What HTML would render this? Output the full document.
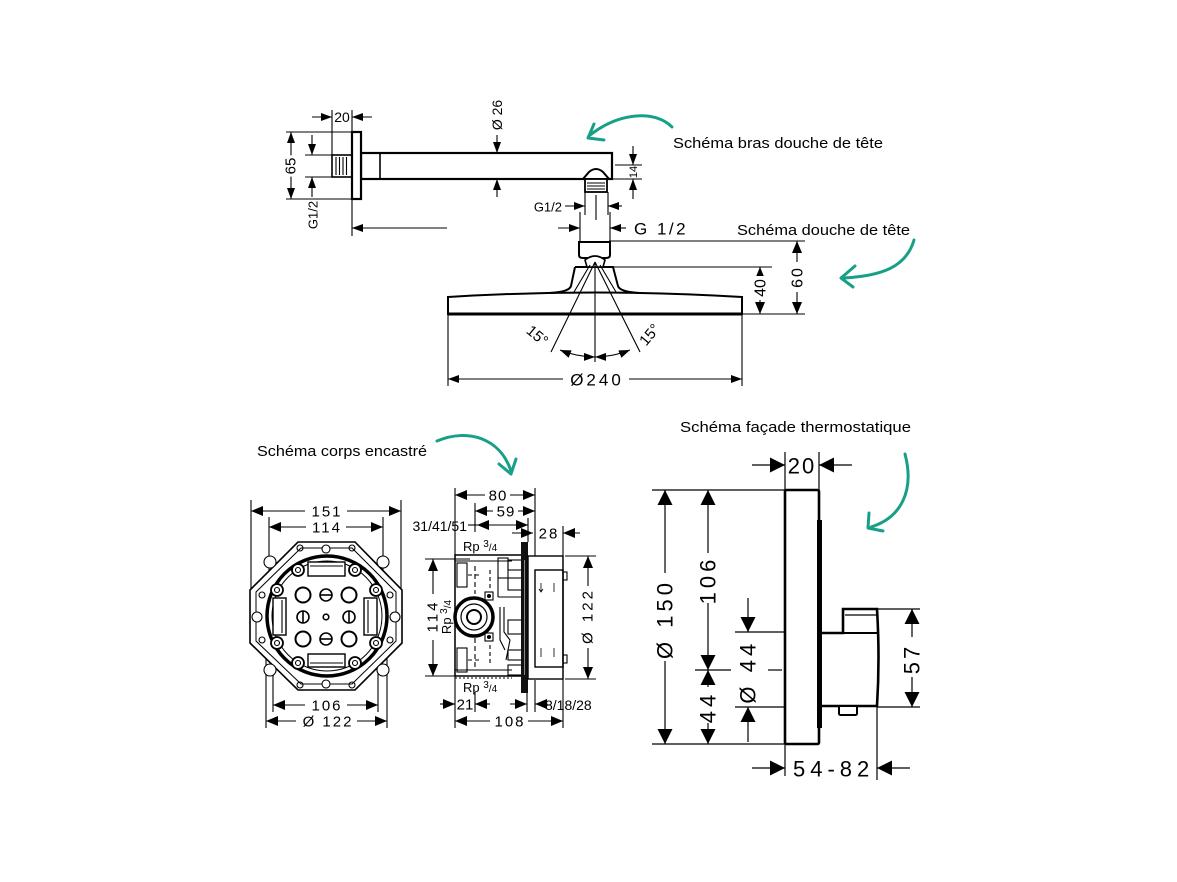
<!DOCTYPE html>
<html><head><meta charset="utf-8"><style>
html,body{margin:0;padding:0;background:#fff;}
svg{display:block}
text{font-family:"Liberation Sans",sans-serif;fill:#000;stroke:none}
.h{stroke:#fff;stroke-width:6px;paint-order:stroke;}
</style></head><body>
<svg width="1177" height="882" viewBox="0 0 1177 882" xmlns="http://www.w3.org/2000/svg">
<defs>
<marker id="a" viewBox="0 0 11 8" refX="11" refY="4" markerWidth="11" markerHeight="8" markerUnits="userSpaceOnUse" orient="auto-start-reverse"><path d="M0,0L11,4L0,8z" fill="#000" stroke="none"/></marker>
<marker id="m" viewBox="0 0 12 10" refX="12" refY="5" markerWidth="12" markerHeight="10" markerUnits="userSpaceOnUse" orient="auto-start-reverse"><path d="M0,0L12,5L0,10z" fill="#000" stroke="none"/></marker>
<marker id="b" viewBox="0 0 15 15" refX="15" refY="7.5" markerWidth="15" markerHeight="15" markerUnits="userSpaceOnUse" orient="auto-start-reverse"><path d="M0,0L15,7.5L0,15z" fill="#000" stroke="none"/></marker>
</defs>
<rect width="1177" height="882" fill="#fff"/>

<!-- ================= TOP ARM ================= -->
<g stroke="#000" fill="none" stroke-width="1.1">
<line x1="286" y1="132" x2="352" y2="132"/>
<line x1="286" y1="199" x2="352" y2="199"/>
<line x1="305" y1="155" x2="332" y2="155"/>
<line x1="305" y1="177" x2="332" y2="177"/>
<line x1="332" y1="110" x2="332" y2="155"/>
<line x1="352" y1="110" x2="352" y2="132"/>
<line x1="352" y1="199" x2="352" y2="236"/>
<line x1="291" y1="132" x2="291" y2="199" marker-start="url(#a)" marker-end="url(#a)"/>
<line x1="312" y1="135" x2="312" y2="155" marker-end="url(#a)"/>
<line x1="312" y1="197" x2="312" y2="177" marker-end="url(#a)"/>
<line x1="312" y1="117" x2="332" y2="117" marker-end="url(#a)"/>
<line x1="372" y1="117" x2="352" y2="117" marker-end="url(#a)"/>
<line x1="447" y1="228" x2="352" y2="228" marker-end="url(#a)"/>
<rect x="361" y="153" width="251" height="26" stroke-width="2.2"/>
<line x1="380" y1="153" x2="380" y2="179" stroke-width="1.6"/>
<rect x="352" y="132" width="9" height="67" fill="#fff" stroke-width="2.2"/>
<rect x="332" y="155" width="20" height="22" stroke-width="1.6"/>
<line x1="336" y1="157" x2="336" y2="175"/>
<line x1="339.5" y1="157" x2="339.5" y2="175"/>
<line x1="343" y1="157" x2="343" y2="175"/>
<line x1="346.5" y1="157" x2="346.5" y2="175"/>
<line x1="497" y1="135" x2="497" y2="153" marker-end="url(#a)"/>
<line x1="497" y1="197" x2="497" y2="179" marker-end="url(#a)"/>
<path d="M583,179 L589,172 Q596,166 603,172 L609,179 Z" fill="#fff" stroke-width="2"/>
<rect x="585" y="179" width="22" height="13" fill="#fff" stroke-width="1.8"/>
<line x1="587" y1="183" x2="605" y2="183"/>
<line x1="587" y1="186" x2="605" y2="186"/>
<line x1="587" y1="189" x2="605" y2="189"/>
<line x1="615" y1="165" x2="642" y2="165"/>
<line x1="612" y1="179" x2="642" y2="179"/>
<line x1="633" y1="146" x2="633" y2="165" marker-end="url(#a)"/>
<line x1="633" y1="199" x2="633" y2="179" marker-end="url(#a)"/>
<line x1="585" y1="192" x2="585" y2="215"/>
<line x1="608" y1="192" x2="608" y2="215"/>
<line x1="596" y1="195" x2="596" y2="220"/>
<line x1="565" y1="206" x2="585" y2="206" marker-end="url(#a)"/>
<line x1="622" y1="206" x2="608" y2="206" marker-end="url(#a)"/>
<line x1="580" y1="212" x2="580" y2="241"/>
<line x1="610" y1="212" x2="610" y2="241"/>
<line x1="558" y1="228" x2="580" y2="228" marker-end="url(#a)"/>
<line x1="626" y1="228" x2="610" y2="228" marker-end="url(#a)"/>
</g>
<text transform="translate(291,166) rotate(-90)" text-anchor="middle" dominant-baseline="central" font-size="15" class="h">65</text>
<text transform="translate(313,215) rotate(-90)" text-anchor="middle" dominant-baseline="central" font-size="13">G1/2</text>
<text x="342" y="117" text-anchor="middle" dominant-baseline="central" font-size="14">20</text>
<text transform="translate(497,115) rotate(-90)" text-anchor="middle" dominant-baseline="central" font-size="14">Ø 26</text>
<text transform="translate(634,172) rotate(-90)" text-anchor="middle" dominant-baseline="central" font-size="11">14</text>
<text x="562" y="207" text-anchor="end" dominant-baseline="central" font-size="13">G1/2</text>
<text x="634" y="229" dominant-baseline="central" font-size="17" letter-spacing="2.5">G 1/2</text>

<!-- ================= SHOWER HEAD ================= -->
<g stroke="#000" fill="none" stroke-width="1.1">
<line x1="609" y1="241" x2="805" y2="241"/>
<line x1="613" y1="267" x2="772" y2="267"/>
<line x1="742" y1="314" x2="805" y2="314"/>
<line x1="448" y1="314" x2="448" y2="386"/>
<line x1="742" y1="300" x2="742" y2="386"/>
<path d="M448,297 Q596,288 742,297 L742,314 L448,314 Z" fill="#fff" stroke-width="2"/>
<line x1="448" y1="314" x2="742" y2="314" stroke-width="3"/>
<path d="M575,267 L613,267 L618,286 Q620,292 640,293 M575,267 L571,286 Q569,292 550,293" stroke-width="2"/>
<path d="M579,242 L610,242 L610,255 Q610,258 606,258 L583,258 Q579,258 579,255 Z" fill="#fff" stroke-width="2"/>
<path d="M585,260 Q595,252 605,260 L603,267 L587,267 Z" fill="#fff" stroke-width="1.6"/>
<line x1="595" y1="262" x2="551" y2="352"/>
<line x1="595" y1="262" x2="640" y2="352"/>
<line x1="595" y1="262" x2="595" y2="362"/>
<line x1="590" y1="265" x2="574" y2="292"/>
<line x1="600" y1="265" x2="616" y2="292"/>
<path d="M560,350 A95,95 0 0 0 595,357" marker-start="url(#a)" marker-end="url(#a)"/>
<path d="M595,357 A95,95 0 0 0 630,350" marker-start="url(#a)" marker-end="url(#a)"/>
<line x1="448" y1="379" x2="742" y2="379" marker-start="url(#a)" marker-end="url(#a)"/>
<line x1="760" y1="267" x2="760" y2="314" marker-start="url(#m)" marker-end="url(#m)"/>
<line x1="797" y1="241" x2="797" y2="314" marker-start="url(#m)" marker-end="url(#m)"/>
</g>
<rect x="563" y="371" width="66" height="17" fill="#fff"/>
<rect x="790" y="262" width="14" height="30" fill="#fff"/>
<rect x="753" y="276" width="14" height="24" fill="#fff"/>
<text transform="translate(537,336) rotate(40)" text-anchor="middle" dominant-baseline="central" font-size="15">15°</text>
<text transform="translate(650,335) rotate(-50)" text-anchor="middle" dominant-baseline="central" font-size="15">15°</text>
<text x="597" y="380" text-anchor="middle" dominant-baseline="central" font-size="17" letter-spacing="3">Ø240</text>
<text transform="translate(761,288) rotate(-90)" text-anchor="middle" dominant-baseline="central" font-size="16">40</text>
<text transform="translate(798,277) rotate(-90)" text-anchor="middle" dominant-baseline="central" font-size="16" letter-spacing="2">60</text>

<!-- ================= LABELS + GREEN ARROWS ================= -->
<text x="673" y="148" font-size="14.5" textLength="210" lengthAdjust="spacingAndGlyphs">Schéma bras douche de tête</text>
<text x="737" y="235" font-size="14.5" textLength="173" lengthAdjust="spacingAndGlyphs">Schéma douche de tête</text>
<text x="257" y="456" font-size="14.5" textLength="170" lengthAdjust="spacingAndGlyphs">Schéma corps encastré</text>
<text x="680" y="432" font-size="14.5" textLength="231" lengthAdjust="spacingAndGlyphs">Schéma façade thermostatique</text>
<g stroke="#17a086" fill="none" stroke-width="3" stroke-linecap="round" stroke-linejoin="round">
<path d="M672,127 C655,110 620,112 590,135"/>
<polyline points="594,124 588,138 604,140"/>
<path d="M914,240 C906,268 880,276 844,278"/>
<polyline points="855,266 841,278 853,287"/>
<path d="M437,441 C468,428 500,438 511,471"/>
<polyline points="499,464 511,474 516,459"/>
<path d="M905,454 C915,492 900,518 871,527"/>
<polyline points="869,513 868,528 883,531"/>
</g>

<!-- ================= ROUND BODY ================= -->
<g stroke="#000" fill="none" stroke-width="1.1">
<line x1="251" y1="500" x2="251" y2="590"/>
<line x1="401" y1="500" x2="401" y2="590"/>
<line x1="269" y1="517" x2="269" y2="570"/>
<line x1="383" y1="517" x2="383" y2="570"/>
<line x1="251" y1="511" x2="401" y2="511" marker-start="url(#m)" marker-end="url(#m)"/>
<line x1="269" y1="527" x2="383" y2="527" marker-start="url(#m)" marker-end="url(#m)"/>
<line x1="273" y1="665" x2="273" y2="712"/>
<line x1="378" y1="665" x2="378" y2="712"/>
<line x1="266" y1="655" x2="266" y2="728"/>
<line x1="387" y1="655" x2="387" y2="728"/>
<line x1="273" y1="705" x2="378" y2="705" marker-start="url(#m)" marker-end="url(#m)"/>
<line x1="266" y1="721" x2="387" y2="721" marker-start="url(#m)" marker-end="url(#m)"/>
<polygon points="298,542 355,542 402,590 402,643 355,690 298,690 250,643 250,590" fill="#fff" stroke-width="1.6"/>
<polygon points="301,548 352,548 396,592 396,641 352,684 301,684 256,641 256,592" stroke-width="1"/>
<circle cx="270" cy="562" r="6" fill="#fff"/>
<circle cx="383" cy="562" r="6" fill="#fff"/>
<circle cx="270" cy="670" r="6" fill="#fff"/>
<circle cx="383" cy="670" r="6" fill="#fff"/>
<circle cx="326" cy="549" r="4" fill="#fff"/>
<circle cx="326" cy="684" r="4" fill="#fff"/>
<circle cx="257" cy="617" r="5" fill="#fff"/>
<circle cx="395" cy="617" r="5" fill="#fff"/>
<circle cx="262" cy="595" r="3"/><circle cx="390" cy="595" r="3"/>
<circle cx="262" cy="640" r="3"/><circle cx="390" cy="640" r="3"/>
<circle cx="300" cy="548" r="3"/><circle cx="352" cy="548" r="3"/>
<circle cx="300" cy="685" r="3"/><circle cx="352" cy="685" r="3"/>
<circle cx="327" cy="616" r="60" stroke-width="3.5"/>
<circle cx="327" cy="616" r="55" stroke-width="1"/>
<g fill="#fff" stroke-width="1.8">
<circle cx="298" cy="570" r="6"/><circle cx="355" cy="570" r="6"/>
<circle cx="277" cy="590" r="6"/><circle cx="376" cy="590" r="6"/>
<circle cx="277" cy="643" r="6"/><circle cx="376" cy="643" r="6"/>
<circle cx="298" cy="663" r="6"/><circle cx="355" cy="663" r="6"/>
</g>
<circle cx="298" cy="570" r="2.5"/><circle cx="355" cy="570" r="2.5"/>
<circle cx="277" cy="590" r="2.5"/><circle cx="376" cy="590" r="2.5"/>
<circle cx="277" cy="643" r="2.5"/><circle cx="376" cy="643" r="2.5"/>
<circle cx="298" cy="663" r="2.5"/><circle cx="355" cy="663" r="2.5"/>
<rect x="308" y="562" width="37" height="14" fill="#fff" stroke-width="1.4"/>
<line x1="310" y1="566" x2="343" y2="566"/>
<rect x="308" y="654" width="37" height="13" fill="#fff" stroke-width="1.4"/>
<line x1="310" y1="663" x2="343" y2="663"/>
<rect x="273" y="598" width="13" height="37" fill="#fff" stroke-width="1.4"/>
<line x1="282" y1="600" x2="282" y2="633"/>
<rect x="364" y="598" width="13" height="37" fill="#fff" stroke-width="1.4"/>
<line x1="368" y1="600" x2="368" y2="633"/>
<g stroke-width="2">
<circle cx="303" cy="595" r="7.5"/><circle cx="349" cy="595" r="7.5"/>
<circle cx="303" cy="639" r="7.5"/><circle cx="349" cy="639" r="7.5"/>
</g>
<g stroke-width="1.6">
<circle cx="326" cy="595" r="6"/><line x1="320" y1="595" x2="332" y2="595"/>
<circle cx="326" cy="639" r="6"/><line x1="320" y1="639" x2="332" y2="639"/>
<circle cx="303" cy="617" r="6"/><line x1="303" y1="611" x2="303" y2="623"/>
<circle cx="349" cy="617" r="6"/><line x1="349" y1="611" x2="349" y2="623"/>
<circle cx="326" cy="617" r="2.8"/>
</g>
</g>
<rect x="305" y="503" width="42" height="16" fill="#fff"/>
<rect x="306" y="519" width="40" height="16" fill="#fff"/>
<rect x="305" y="697" width="42" height="16" fill="#fff"/>
<rect x="296" y="713" width="61" height="16" fill="#fff"/>
<text x="327" y="512" text-anchor="middle" dominant-baseline="central" font-size="15" letter-spacing="2">151</text>
<text x="327" y="528" text-anchor="middle" dominant-baseline="central" font-size="15" letter-spacing="2">114</text>
<text x="327" y="706" text-anchor="middle" dominant-baseline="central" font-size="15" letter-spacing="2">106</text>
<text x="328" y="722" text-anchor="middle" dominant-baseline="central" font-size="15" letter-spacing="2">Ø 122</text>

<!-- ================= SIDE BODY ================= -->
<g stroke="#000" fill="none" stroke-width="1.1">
<line x1="455" y1="488" x2="455" y2="728"/>
<line x1="475" y1="503" x2="475" y2="532"/>
<line x1="475" y1="692" x2="475" y2="712"/>
<line x1="535" y1="488" x2="535" y2="556"/>
<line x1="528" y1="518" x2="528" y2="542"/>
<line x1="527" y1="693" x2="527" y2="712"/>
<line x1="535" y1="680" x2="535" y2="712"/>
<line x1="563" y1="526" x2="563" y2="728"/>
<line x1="455" y1="495" x2="535" y2="495" marker-start="url(#m)" marker-end="url(#m)"/>
<line x1="475" y1="511" x2="535" y2="511" marker-start="url(#m)" marker-end="url(#m)"/>
<line x1="468" y1="525" x2="477" y2="525"/>
<line x1="477" y1="525" x2="528" y2="525" marker-start="url(#m)" marker-end="url(#m)"/>
<line x1="512" y1="533" x2="533" y2="533" marker-end="url(#m)"/>
<line x1="580" y1="533" x2="563" y2="533" marker-end="url(#m)"/>
<line x1="425" y1="559" x2="470" y2="559"/>
<line x1="425" y1="676" x2="470" y2="676"/>
<line x1="433" y1="559" x2="433" y2="676" marker-start="url(#m)" marker-end="url(#m)"/>
<line x1="565" y1="556" x2="596" y2="556"/>
<line x1="565" y1="679" x2="596" y2="679"/>
<line x1="588" y1="556" x2="588" y2="679" marker-start="url(#m)" marker-end="url(#m)"/>
<line x1="440" y1="704" x2="455" y2="704" marker-end="url(#m)"/>
<line x1="490" y1="704" x2="475" y2="704" marker-end="url(#m)"/>
<line x1="510" y1="704" x2="527" y2="704" marker-end="url(#m)"/>
<line x1="546" y1="704" x2="535" y2="704" marker-end="url(#m)"/>
<line x1="455" y1="721" x2="563" y2="721" marker-start="url(#m)" marker-end="url(#m)"/>
<rect x="455" y="555" width="67" height="121" stroke-width="1.5"/>
<line x1="455" y1="561" x2="512" y2="561"/>
<line x1="455" y1="670" x2="512" y2="670"/>
<rect x="457" y="563" width="10" height="24"/>
<rect x="457" y="648" width="10" height="24"/>
<line x1="475" y1="566" x2="475" y2="594" stroke-dasharray="5,3"/>
<line x1="475" y1="638" x2="475" y2="668" stroke-dasharray="5,3"/>
<line x1="490" y1="570" x2="490" y2="590" stroke-dasharray="4,3"/>
<line x1="490" y1="645" x2="490" y2="665" stroke-dasharray="4,3"/>
<line x1="468" y1="575" x2="482" y2="575" stroke-dasharray="4,3"/>
<line x1="468" y1="660" x2="482" y2="660" stroke-dasharray="4,3"/>
<circle cx="474" cy="617" r="19" stroke-width="3.5"/>
<circle cx="474" cy="617" r="13" stroke-width="1.2"/>
<circle cx="474" cy="617" r="7" stroke-width="2"/>
<rect x="485" y="592" width="8" height="8"/><circle cx="489" cy="596" r="1.5" fill="#000"/>
<rect x="485" y="633" width="8" height="8"/><circle cx="489" cy="637" r="1.5" fill="#000"/>
<rect x="498" y="558" width="10" height="20"/>
<line x1="498" y1="597" x2="522" y2="597"/>
<line x1="498" y1="578" x2="498" y2="597"/>
<path d="M500,607 L500,640 L505,650 M504,607 L504,632 L510,640 L506,660"/>
<rect x="508" y="560" width="14" height="10"/>
<rect x="508" y="578" width="14" height="12"/>
<rect x="508" y="620" width="14" height="14"/>
<rect x="508" y="650" width="14" height="10"/>
<rect x="508" y="665" width="14" height="10"/>
<line x1="455" y1="678" x2="512" y2="678" stroke-dasharray="2,2"/>
<rect x="521" y="542" width="7" height="151" fill="#111" stroke="none"/>
<line x1="524.5" y1="560" x2="524.5" y2="675" stroke="#888" stroke-width="1"/>
<rect x="528" y="556" width="35" height="123" stroke-width="1.4"/>
<rect x="535" y="570" width="28" height="97" stroke-width="1.4"/>
<rect x="563" y="572" width="4" height="8"/>
<rect x="563" y="655" width="4" height="8"/>
<path d="M541,583 L541,592 M539,589 L541,592 L543,589 M554,583 L554,592 M541,648 L541,657 M554,648 L554,657" stroke-width="0.8"/>
</g>
<rect x="485" y="487" width="25" height="16" fill="#fff"/>
<rect x="493" y="503" width="25" height="16" fill="#fff"/>
<rect x="425" y="594" width="16" height="46" fill="#fff"/>
<rect x="580" y="586" width="16" height="62" fill="#fff"/>
<rect x="490" y="713" width="38" height="16" fill="#fff"/>
<text x="498" y="496" text-anchor="middle" dominant-baseline="central" font-size="15" letter-spacing="1">80</text>
<text x="506" y="512" text-anchor="middle" dominant-baseline="central" font-size="15" letter-spacing="1">59</text>
<text x="467" y="526" text-anchor="end" dominant-baseline="central" font-size="14">31/41/51</text>
<text x="549" y="534" text-anchor="middle" dominant-baseline="central" font-size="15" letter-spacing="2">28</text>
<text x="463" y="551" font-size="13">Rp <tspan font-size="10" dy="-4">3</tspan><tspan font-size="10" dy="4">/4</tspan></text>
<text x="463" y="692" font-size="13">Rp <tspan font-size="10" dy="-4">3</tspan><tspan font-size="10" dy="4">/4</tspan></text>
<text transform="translate(451,617) rotate(-90)" text-anchor="middle" font-size="13">Rp <tspan font-size="10" dy="-4">3</tspan><tspan font-size="10" dy="4">/4</tspan></text>
<text transform="translate(433,616) rotate(-90)" text-anchor="middle" dominant-baseline="central" font-size="15" letter-spacing="3">114</text>
<text transform="translate(588,616) rotate(-90)" text-anchor="middle" dominant-baseline="central" font-size="15" letter-spacing="3">Ø 122</text>
<text x="465" y="705" text-anchor="middle" dominant-baseline="central" font-size="15">21</text>
<text x="545" y="705" dominant-baseline="central" font-size="14">8/18/28</text>
<text x="510" y="722" text-anchor="middle" dominant-baseline="central" font-size="15" letter-spacing="2">108</text>

<!-- ================= FACADE ================= -->
<g stroke="#000" fill="none" stroke-width="1.2">
<line x1="785" y1="452" x2="785" y2="490"/>
<line x1="819" y1="452" x2="819" y2="490"/>
<line x1="752" y1="465" x2="785" y2="465" marker-end="url(#b)"/>
<line x1="852" y1="465" x2="819" y2="465" marker-end="url(#b)"/>
<line x1="652" y1="490" x2="785" y2="490"/>
<line x1="652" y1="744" x2="785" y2="744"/>
<line x1="665" y1="490" x2="665" y2="744" marker-start="url(#b)" marker-end="url(#b)"/>
<line x1="708" y1="490" x2="708" y2="670" marker-start="url(#b)" marker-end="url(#b)"/>
<line x1="708" y1="670" x2="708" y2="744" marker-start="url(#b)" marker-end="url(#b)"/>
<line x1="695" y1="670" x2="731" y2="670"/>
<line x1="768" y1="670" x2="782" y2="670"/>
<line x1="735" y1="632" x2="785" y2="632"/>
<line x1="735" y1="707" x2="785" y2="707"/>
<line x1="748" y1="598" x2="748" y2="632" marker-end="url(#b)"/>
<line x1="748" y1="742" x2="748" y2="707" marker-end="url(#b)"/>
<line x1="877" y1="609" x2="920" y2="609"/>
<line x1="877" y1="707" x2="920" y2="707"/>
<line x1="912" y1="609" x2="912" y2="707" marker-start="url(#b)" marker-end="url(#b)"/>
<line x1="785" y1="744" x2="785" y2="776"/>
<line x1="877" y1="707" x2="877" y2="780"/>
<line x1="752" y1="768" x2="785" y2="768" marker-end="url(#b)"/>
<line x1="910" y1="768" x2="877" y2="768" marker-end="url(#b)"/>
<rect x="785" y="490" width="34" height="254" rx="1.5" fill="#fff" stroke-width="2.6"/>
<line x1="819.5" y1="520" x2="819.5" y2="728" stroke-width="5"/>
<path d="M822,633 L843,633 L843,609 L877,609 Q880,658 877,706 L822,706" fill="#fff" stroke-width="2.6"/>
<line x1="843" y1="633" x2="877" y2="633" stroke-width="2"/>
<line x1="845" y1="615" x2="876" y2="615" stroke-width="1.2"/>
<rect x="839" y="706" width="18" height="9" rx="1.5" fill="#fff" stroke-width="2"/>
</g>
<rect x="654" y="573" width="22" height="88" fill="#fff"/>
<rect x="697" y="553" width="22" height="50" fill="#fff"/>
<rect x="697" y="687" width="22" height="36" fill="#fff"/>
<rect x="901" y="637" width="22" height="40" fill="#fff"/>
<text x="802" y="466" text-anchor="middle" dominant-baseline="central" font-size="22" letter-spacing="2">20</text>
<text transform="translate(665,619) rotate(-90)" text-anchor="middle" dominant-baseline="central" font-size="22" letter-spacing="4">Ø  150</text>
<text transform="translate(708,580) rotate(-90)" text-anchor="middle" dominant-baseline="central" font-size="22" letter-spacing="4">106</text>
<text transform="translate(708,707) rotate(-90)" text-anchor="middle" dominant-baseline="central" font-size="22" letter-spacing="4">44</text>
<text transform="translate(748,656) rotate(-90)" text-anchor="middle" dominant-baseline="central" font-size="22" letter-spacing="4">44</text>
<text transform="translate(748,695) rotate(-90)" text-anchor="middle" dominant-baseline="central" font-size="22">Ø</text>
<text transform="translate(912,659) rotate(-90)" text-anchor="middle" dominant-baseline="central" font-size="22" letter-spacing="3">57</text>
<text x="793" y="769" dominant-baseline="central" font-size="22" letter-spacing="5">54-82</text>
</svg>
</body></html>
